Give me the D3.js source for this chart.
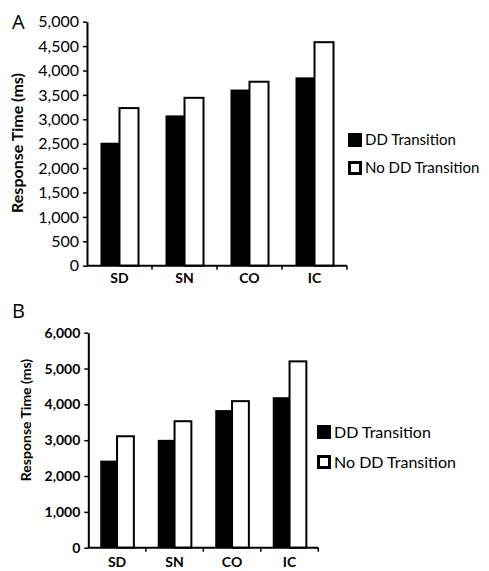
<!DOCTYPE html>
<html>
<head>
<meta charset="utf-8">
<script src="https://cdn.jsdelivr.net/npm/d3@7"></script>
<style>
  body { margin: 0; background: #fff; }
  text { font-family: Lato, "Open Sans", sans-serif; fill: #000; }
</style>
</head>
<body>
<div id="vis"></div>
<script>
// data
const CATEGORIES = ["SD", "SN", "CO", "IC"];
const SERIES = ["DD Transition", "No DD Transition"];

// panel A
const A_DD = [2520, 3080, 3610, 3860];
const A_NO_DD = [3230, 3440, 3770, 4580];
const A_TICKS = [0, 500, 1000, 1500, 2000, 2500, 3000, 3500, 4000, 4500, 5000];

// panel B
const B_DD = [2430, 3010, 3840, 4200];
const B_NO_DD = [3110, 3530, 4090, 5200];
const B_TICKS = [0, 1000, 2000, 3000, 4000, 5000, 6000];

// frame
const FRAME_WIDTH = 489;
const FRAME_HEIGHT = 571;

const FRAME = d3.select("#vis")
                .append("svg")
                .attr("width", FRAME_WIDTH)
                .attr("height", FRAME_HEIGHT);

// draws one panel of the figure
function build_panel(opts) {

  const g = FRAME.append("g");

  // scales
  const X0 = d3.scaleBand()
               .domain(CATEGORIES)
               .range([opts.left, opts.right])
               .padding(0);

  const X1 = d3.scaleBand()
               .domain(SERIES)
               .range([0, X0.bandwidth()])
               .paddingInner(0)
               .paddingOuter(0.71);

  const Y = d3.scaleLinear()
              .domain([0, opts.max])
              .range([opts.bottom, opts.top]);

  // rows for the bars
  const rows = [];
  CATEGORIES.forEach((c, i) => {
    rows.push({cat: c, series: SERIES[0], value: opts.dd[i]});
    rows.push({cat: c, series: SERIES[1], value: opts.noDd[i]});
  });

  // bars
  g.selectAll("rect.bar")
    .data(rows)
    .enter()
    .append("rect")
      .attr("class", "bar")
      .attr("x", (d) => X0(d.cat) + X1(d.series))
      .attr("y", (d) => Y(d.value))
      .attr("width", X1.bandwidth())
      .attr("height", (d) => Y(0) - Y(d.value))
      .attr("fill", (d) => d.series == SERIES[0] ? "#000" : "#fff")
      .attr("stroke", "#000")
      .attr("stroke-width", (d) => d.series == SERIES[0] ? 0 : 2);

  // y axis
  const yAxis = g.append("g")
    .attr("transform", "translate(" + opts.left + ",0)")
    .call(d3.axisLeft(Y)
            .tickValues(opts.ticks)
            .tickFormat(d3.format(","))
            .tickSize(4)
            .tickSizeOuter(0));
  yAxis.select(".domain").attr("stroke-width", 2);
  yAxis.selectAll(".tick line").attr("stroke-width", 1.5);
  yAxis.selectAll("text")
       .attr("x", -8)
       .attr("font-size", opts.tickSize + "px")
       .attr("font-weight", opts.tickWeight)
       .style("font-family", "Lato, sans-serif");

  // x axis line
  g.append("line")
    .attr("x1", opts.left)
    .attr("x2", opts.right)
    .attr("y1", Y(0))
    .attr("y2", Y(0))
    .attr("stroke", "#000")
    .attr("stroke-width", 2);

  // x ticks at category boundaries
  g.selectAll("line.xtick")
    .data(CATEGORIES)
    .enter()
    .append("line")
      .attr("class", "xtick")
      .attr("x1", (d) => X0(d) + X0.bandwidth())
      .attr("x2", (d) => X0(d) + X0.bandwidth())
      .attr("y1", Y(0))
      .attr("y2", Y(0) + 4)
      .attr("stroke", "#000")
      .attr("stroke-width", 1.5);

  // category labels
  g.selectAll("text.cat")
    .data(CATEGORIES)
    .enter()
    .append("text")
      .attr("class", "cat")
      .attr("x", (d) => X0(d) + X0.bandwidth() / 2)
      .attr("y", opts.catY)
      .attr("text-anchor", "middle")
      .attr("font-size", "14px")
      .attr("font-weight", "bold")
      .text((d) => d);

  // y title
  g.append("text")
    .attr("transform", "translate(" + opts.titleX + "," + opts.titleY + ") rotate(-90)")
    .attr("text-anchor", "middle")
    .attr("font-size", opts.titleSize + "px")
    .attr("font-weight", "bold")
    .text("Response Time (ms)");

  // panel letter
  g.append("text")
    .attr("x", 12)
    .attr("y", opts.letterY)
    .attr("font-size", "20px")
    .style("font-family", "'Open Sans', sans-serif")
    .text(opts.letter);

  // legend
  const legend = g.selectAll("g.legend")
    .data(SERIES)
    .enter()
    .append("g")
      .attr("class", "legend")
      .attr("transform", (d, i) => "translate(" + opts.legendX + "," + (opts.legendY + i * opts.legendGap) + ")");

  legend.append("rect")
    .attr("x", 1.5)
    .attr("y", -5.5)
    .attr("width", 11)
    .attr("height", 11)
    .attr("fill", (d, i) => i == 0 ? "#000" : "#fff")
    .attr("stroke", "#000")
    .attr("stroke-width", 3);

  legend.append("text")
    .attr("x", opts.legendText)
    .attr("y", 0)
    .attr("dy", "0.35em")
    .attr("font-size", opts.legendSize + "px")
    .text((d) => d);
}

build_panel({
  letter: "A", letterY: 29,
  dd: A_DD, noDd: A_NO_DD, ticks: A_TICKS, max: 5000,
  left: 87, right: 347, top: 21.7, bottom: 265.7,
  tickSize: 16, tickWeight: "normal",
  catY: 283,
  titleX: 23, titleY: 143, titleSize: 16,
  legendX: 348, legendY: 140, legendGap: 28, legendText: 17, legendSize: 15
});

build_panel({
  letter: "B", letterY: 318,
  dd: B_DD, noDd: B_NO_DD, ticks: B_TICKS, max: 6000,
  left: 88.3, right: 318.3, top: 332.7, bottom: 547.7,
  tickSize: 14, tickWeight: "bold",
  catY: 567,
  titleX: 31, titleY: 420, titleSize: 14,
  legendX: 317, legendY: 432, legendGap: 30, legendText: 17, legendSize: 16
});
</script>
</body>
</html>
